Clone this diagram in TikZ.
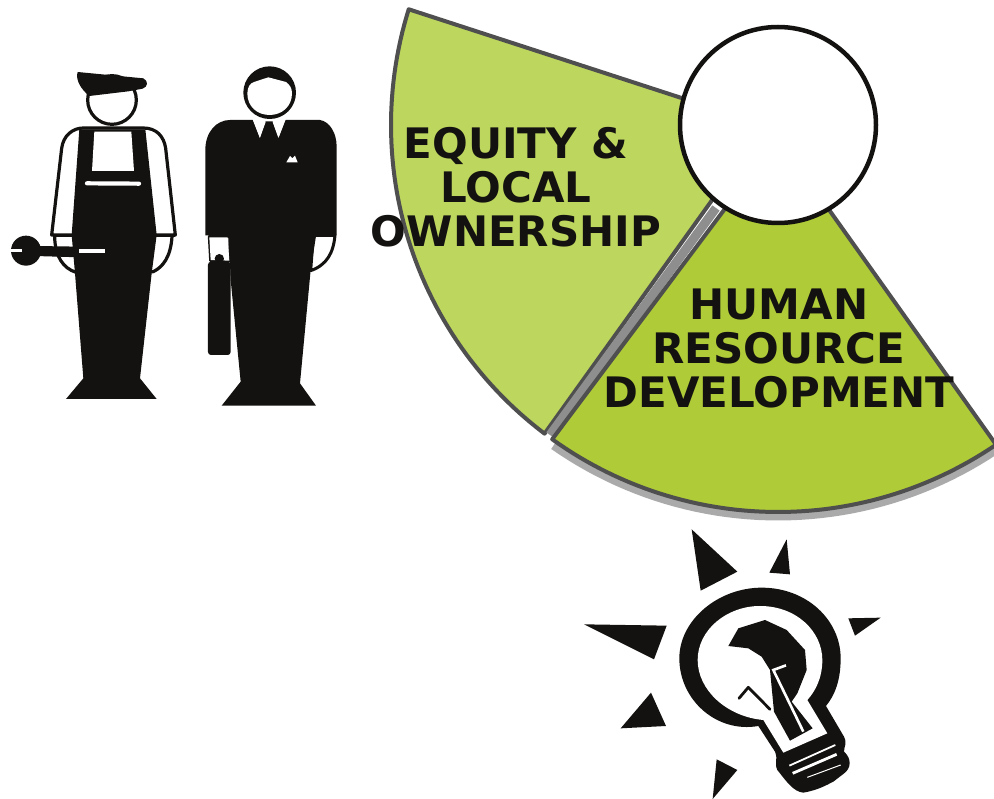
\documentclass[tikz,border=0pt]{standalone}
\usepackage{fontspec}
\setmainfont{DejaVu Sans}
\definecolor{lightleaf}{HTML}{BDD65E}
\definecolor{leaf}{HTML}{AFCC38}
\definecolor{edge}{HTML}{4F4F4F}
\definecolor{band}{HTML}{8E8E8E}
\definecolor{ink}{HTML}{141210}
\tikzset{
  sector/.style={draw=edge,line width=4pt,line join=round},
  lab/.style={font=\bfseries\fontsize{42}{44}\selectfont,align=center,text=ink,inner sep=0pt},
  inkfill/.style={fill=ink,draw=none},
  whitefill/.style={fill=white,draw=none},
  inkline/.style={draw=ink,line cap=round,line join=round},
  zoomA/.style={shift={(0,50)},x=0.33333pt,y=-0.33333pt},
  zoomB/.style={shift={(570,520)},x=0.33333pt,y=-0.33333pt}
}
\begin{document}
\begin{tikzpicture}[x=1pt,y=-1pt]
\useasboundingbox (0,0) rectangle (994,799);
\fill[white] (0,0) rectangle (994,799);
% wheel
\coordinate (c) at (778,125);
\draw[band!75,line width=7pt] plot[domain=125:50,samples=50] ({778+392*cos(\x)},{125+392*sin(\x)});
\draw[sector,fill=lightleaf] (710,203) -- plot[domain=127.1:197.4,samples=60] ({778+387*cos(\x)},{125+387*sin(\x)}) -- (740,117) -- (760,130) -- cycle;
\draw[band,line width=9pt] (550,435) -- (716,208);
\draw[sector,fill=leaf] (778,138) -- plot[domain=125.7:55.7,samples=60] ({778+387*cos(\x)},{125+387*sin(\x)}) -- cycle;
\node[circle,draw=ink,fill=white,line width=4.5pt,minimum size=196pt,inner sep=0pt] (hub) at (c) {};
\node[lab,anchor=base] (equity) at (516,247) {EQUITY \&\\LOCAL\\OWNERSHIP};
\node[lab,anchor=base] (human) at (779,408) {HUMAN\\RESOURCE\\DEVELOPMENT};
% worker
\begin{scope}[zoomA]
\draw[inkline,line width=3.2pt,fill=white] (155,555) -- (185,295) .. controls (190,255) and (220,234) .. (250,234) -- (430,234) .. controls (470,234) and (492,260) .. (497,295) -- (526,555) -- cycle;
\draw[inkline,line width=3.2pt,fill=white] (164,560) .. controls (165,620) and (190,655) .. (228,667) -- (460,665) .. controls (490,650) and (512,620) .. (516,560);
\draw[inkline,line width=3.2pt,fill=white] (336,150) circle[radius=73];
\fill[inkfill] (233,66) -- (430,85) .. controls (445,92) and (445,110) .. (428,116) -- (385,124) -- (268,138) .. controls (245,120) and (225,90) .. (233,66) -- cycle;
\fill[inkfill] (238,238) -- (436,238) -- (470,555) -- (455,670) -- (420,985) -- (470,1047) -- (198,1047) -- (250,985) -- (225,670) -- (215,555) -- cycle;
\fill[whitefill] (283,245) -- (394,245) -- (402,363) -- (276,363) -- cycle;
\draw[white,line width=4.2pt,line cap=round] (261,400) -- (417,401);
\fill[inkfill] (160,552) rectangle (218,562);
\fill[inkfill] (468,552) rectangle (526,562);
\fill[inkfill] (78,602) circle[radius=45];
\fill[inkfill] (105,588) -- (240,590) -- (240,622) -- (105,618) -- cycle;
\draw[white,line width=2.8pt] (33,602) -- (66,602);
\fill[whitefill] (238,598) rectangle (315,610);
\end{scope}
% businessman
\begin{scope}[zoomA]
\draw[inkline,line width=3pt,fill=white] (628,560) -- (632,632) -- (690,632) -- (690,560) -- cycle;
\draw[inkline,line width=3pt,fill=white] (1005,556) .. controls (1000,610) and (980,645) .. (932,662) -- (940,556) -- cycle;
\fill[inkfill] (616,300) .. controls (616,245) and (650,210) .. (690,210) -- (960,210) .. controls (990,215) and (1010,250) .. (1010,290) -- (1010,556) -- (948,558) -- (932,660) -- (900,1000) -- (948,1067) -- (665,1067) -- (722,995) -- (692,690) -- (687,560) -- (616,556) -- cycle;
\fill[whitefill] (628,562) -- (632,630) -- (688,632) -- (683,562) -- cycle;
\fill[inkfill] (658,626) circle[radius=14];
\fill[inkfill,rounded corners=3pt] (624,635) rectangle (692,915);
\fill[whitefill] (757,205) -- (780,265) -- (799,218) -- (815,218) -- (835,265) -- (858,205) -- cycle;
\fill[inkfill] (796,214) -- (818,214) -- (842,280) -- (774,280) -- cycle;
\fill[whitefill] (757,205) -- (780,263) -- (797,216) -- (790,205) -- cycle;
\fill[whitefill] (858,205) -- (835,263) -- (818,216) -- (825,205) -- cycle;
\fill[whitefill] (859,337) -- (870,318) -- (877,325) -- (885,317) -- (893,337) -- cycle;
\fill[inkfill] (809,128) circle[radius=79];
\fill[whitefill] (742,130) .. controls (743,110) and (750,100) .. (762,96) -- (805,82) -- (858,96) .. controls (870,105) and (876,115) .. (876,130) .. controls (876,170) and (845,195) .. (809,195) .. controls (772,195) and (742,170) .. (742,130) -- cycle;
\end{scope}
% bulb
\begin{scope}[zoomB]
\fill[inkfill] (365,28) -- (502,155) -- (392,212) -- cycle;
\fill[inkfill] (650,58) -- (660,163) -- (598,158) -- cycle;
\fill[inkfill] (835,295) -- (932,293) -- (855,347) -- cycle;
\fill[inkfill] (42,313) -- (290,317) -- (252,418) -- cycle;
\fill[inkfill] (243,518) -- (288,618) -- (152,625) -- cycle;
\fill[inkfill] (440,718) -- (502,750) -- (428,837) -- cycle;
\fill[inkfill] (575,203) .. controls (710,203) and (812,300) .. (812,415) .. controls (812,480) and (795,525) .. (768,558) -- (822,650) .. controls (832,670) and (822,680) .. (822,695) .. controls (845,715) and (845,745) .. (820,762) -- (790,785) .. controls (770,795) and (745,810) .. (700,818) .. controls (670,815) and (650,785) .. (622,750) .. controls (612,730) and (625,720) .. (615,695) -- (565,618) .. controls (440,640) and (328,540) .. (328,415) .. controls (328,300) and (445,203) .. (575,203) -- cycle;
\fill[whitefill] (570,258) .. controls (680,258) and (757,335) .. (757,420) .. controls (757,475) and (735,515) .. (712,540) -- (772,640) -- (640,698) -- (580,600) .. controls (470,590) and (383,510) .. (383,420) .. controls (383,330) and (470,258) .. (570,258) -- cycle;
\fill[inkfill] (475,378) -- (505,325) -- (585,300) -- (650,330) -- (705,390) -- (710,450) -- (682,520) -- (665,545) -- (728,625) -- (660,662) -- (612,575) -- (600,450) -- (575,410) -- (535,385) -- cycle;
\draw[inkline,line width=2.8pt] (507,535) -- (535,502) -- (600,568);
\draw[white,line width=2.6pt,line join=miter] (648,436) -- (610,450) -- (700,635);
\draw[white,line width=1.8pt] (658,737) -- (796,675);
\draw[white,line width=2.8pt] (668,760) -- (800,703);
\draw[white,line width=1pt] (712,772) -- (812,735);
\end{scope}
\end{tikzpicture}
\end{document}
